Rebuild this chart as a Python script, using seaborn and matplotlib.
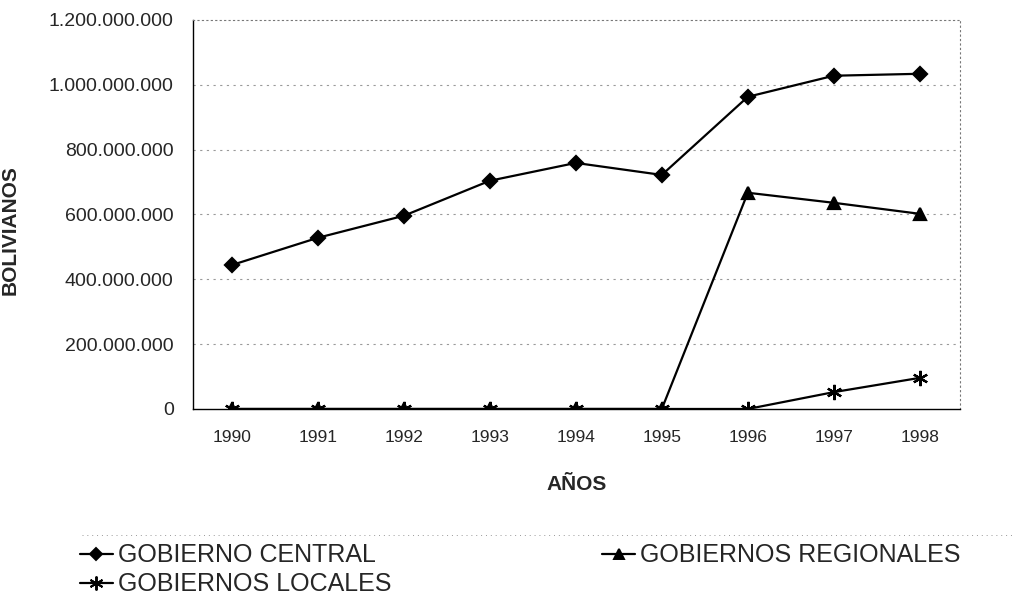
import numpy as np
import pandas as pd
import matplotlib
matplotlib.use("Agg")
import matplotlib.pyplot as plt
import matplotlib.ticker as mticker
from matplotlib.lines import Line2D
import seaborn as sns

years = [1990, 1991, 1992, 1993, 1994, 1995, 1996, 1997, 1998]
central = [444e6, 528e6, 596e6, 704e6, 759e6, 722e6, 963e6, 1028e6, 1034e6]
regionales = [0, 0, 0, 0, 0, 0, 667e6, 636e6, 602e6]
locales = [0, 0, 0, 0, 0, 0, 0, 52e6, 96e6]

series_names = ["GOBIERNO CENTRAL", "GOBIERNOS REGIONALES", "GOBIERNOS LOCALES"]
y_ticks = [0, 200e6, 400e6, 600e6, 800e6, 1000e6, 1200e6]

df = pd.DataFrame({
    "year": years * 3,
    "value": central + regionales + locales,
    "serie": [series_names[0]] * 9 + [series_names[1]] * 9 + [series_names[2]] * 9,
})

sns.set_style("white")
plt.rcParams["font.family"] = ["Liberation Sans", "DejaVu Sans"]

fig = plt.figure(figsize=(10.27, 6.05), dpi=100)
ax = fig.add_axes([0.188, 0.324, 0.747, 0.643])

markers = {series_names[0]: "D", series_names[1]: "^", series_names[2]: (6, 2, 0)}
sizes = {series_names[0]: 7, series_names[1]: 8, series_names[2]: 11}

for name in series_names:
    sub = df[df["serie"] == name]
    sns.lineplot(data=sub, x="year", y="value", ax=ax, color="black", lw=1.6,
                 marker=markers[name], markersize=sizes[name], markeredgewidth=1.6,
                 markeredgecolor="black", markerfacecolor="black", label=name, legend=False)

ax.set_xlim(1989.55, 1998.47)
ax.set_ylim(0, 1200e6)
ax.set_xticks(years)
ax.set_yticks(y_ticks)
ax.yaxis.set_major_formatter(mticker.FuncFormatter(lambda v, p: f"{int(v):,}".replace(",", ".")))
ax.tick_params(axis="y", labelsize=14, length=0, pad=14)
ax.tick_params(axis="x", labelsize=12.5, length=0, pad=15)

for v in y_ticks[1:-1]:
    ax.axhline(v, color="#9a9a9a", lw=0.8, ls=(0, (2, 4)), zorder=0)

for side in ["top", "right"]:
    ax.spines[side].set_linestyle((0, (1, 3)))
    ax.spines[side].set_color("#777777")
    ax.spines[side].set_linewidth(0.8)
for side in ["left", "bottom"]:
    ax.spines[side].set_color("black")
    ax.spines[side].set_linewidth(1.0)

ax.set_xlabel("AÑOS", fontsize=15, fontweight="bold", labelpad=22)
ax.set_ylabel("BOLIVIANOS", fontsize=15, fontweight="bold")
ax.yaxis.set_label_coords(-0.226, 0.46)

# faint dotted separator above the legend
fig.add_artist(Line2D([0.08, 0.985], [0.116, 0.116], transform=fig.transFigure,
                      color="#999999", lw=0.7, ls=(0, (1, 4))))

handles = [Line2D([], [], color="black", lw=1.6, marker=markers[n], markersize=sizes[n] - 1,
                  markeredgewidth=1.4) for n in series_names]
order = [0, 2, 1]
fig.legend([handles[i] for i in order], [series_names[i] for i in order],
           loc="upper left", bbox_to_anchor=(0.078, 0.102), ncol=2, frameon=False,
           fontsize=18, handlelength=1.3, handletextpad=0.2, columnspacing=8.45,
           labelspacing=0.2, borderaxespad=0, borderpad=0)

fig.savefig("out.png", dpi=100)
